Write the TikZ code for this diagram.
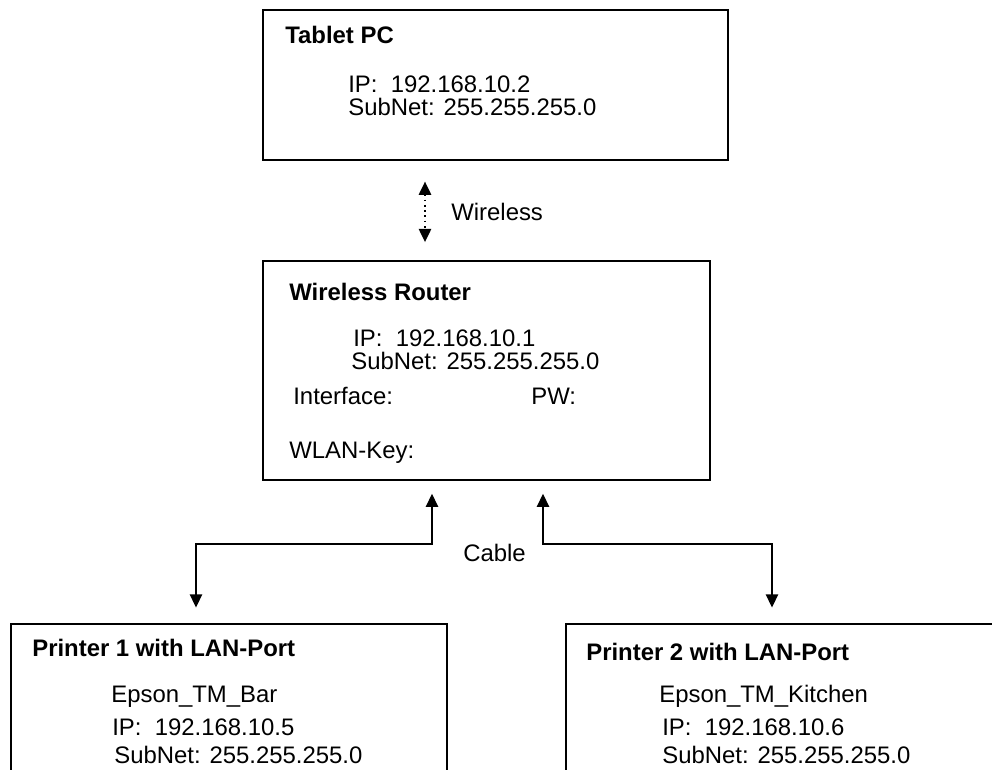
\documentclass[tikz,border=0pt]{standalone}
\usepackage{fontspec}
\setmainfont{Liberation Sans}
\usetikzlibrary{arrows.meta}

\tikzset{
    box/.style   = {draw, line width=1pt, anchor=north west, inner sep=0pt},
    txt/.style   = {anchor=base west, inner sep=0pt, font=\fontsize{13.6pt}{16pt}\selectfont},
    title/.style = {txt, font=\fontsize{13.6pt}{16pt}\selectfont\bfseries},
    tip/.style   = {{Triangle[width=7pt,length=7.5pt]}-{Triangle[width=7pt,length=7.5pt]}},
    wifi/.style  = {tip, line width=1pt, dotted},
    cable/.style = {tip, line width=0.8pt},
}

\begin{document}
\begin{tikzpicture}[x=0.02cm, y=-0.02cm]
    \useasboundingbox (0,0) rectangle (992,769);
    \clip (0,0) rectangle (992,769);

    % Tablet PC
    \node[box, minimum width=9.3cm, minimum height=3cm] (tablet) at (262,9) {};
    \node[title] (tabletName)   at (285,43)  {Tablet PC};
    \node[txt]   (tabletIP)     at (348,92)  {IP:~~192.168.10.2};
    \node[txt]   (tabletSubnet) at (348,115) {SubNet: 255.255.255.0};

    % Wireless Router
    \node[box, minimum width=8.94cm, minimum height=4.38cm] (router) at (262,260) {};
    \node[title] (routerName)   at (289,300) {Wireless Router};
    \node[txt]   (routerIP)     at (353,346) {IP:~~192.168.10.1};
    \node[txt]   (routerSubnet) at (351,369) {SubNet: 255.255.255.0};
    \node[txt]   (routerIface)  at (293,404) {Interface:};
    \node[txt]   (routerPW)     at (531,404) {PW:};
    \node[txt]   (routerKey)    at (289,458) {WLAN-Key:};

    % Printers (cut by the page edge)
    \node[box, minimum width=8.72cm, minimum height=3.6cm] (printerA) at (10,623) {};
    \node[title] (printerAName)   at (32,656)  {Printer 1 with LAN-Port};
    \node[txt]   (printerAId)     at (111,702) {Epson\_TM\_Bar};
    \node[txt]   (printerAIP)     at (112,735) {IP:~~192.168.10.5};
    \node[txt]   (printerASubnet) at (114,763) {SubNet: 255.255.255.0};

    \node[box, minimum width=8.72cm, minimum height=3.6cm] (printerB) at (565,623) {};
    \node[title] (printerBName)   at (586,660) {Printer 2 with LAN-Port};
    \node[txt]   (printerBId)     at (659,702) {Epson\_TM\_Kitchen};
    \node[txt]   (printerBIP)     at (662,735) {IP:~~192.168.10.6};
    \node[txt]   (printerBSubnet) at (662,763) {SubNet: 255.255.255.0};

    % Wireless link
    \coordinate (wl) at (425,0);
    \draw[wifi, shorten <=11.9pt, shorten >=10.2pt] (tablet.south -| wl) -- (router.north -| wl);
    \node[txt] (wirelessLabel) at (451,220) {Wireless};

    % Cable links
    \coordinate (leftBend)  at (432,544);
    \coordinate (rightBend) at (543,544);
    \coordinate (leftDrop)  at (196,0);
    \coordinate (rightDrop) at (772,0);
    \draw[cable, shorten <=7.4pt, shorten >=8.8pt] (router.south -| leftBend) -- (leftBend) -| (printerA.north -| leftDrop);
    \draw[cable, shorten <=7.4pt, shorten >=8.8pt] (router.south -| rightBend) -- (rightBend) -| (printerB.north -| rightDrop);
    \node[txt] (cableLabel) at (463,561) {Cable};
\end{tikzpicture}
\end{document}
